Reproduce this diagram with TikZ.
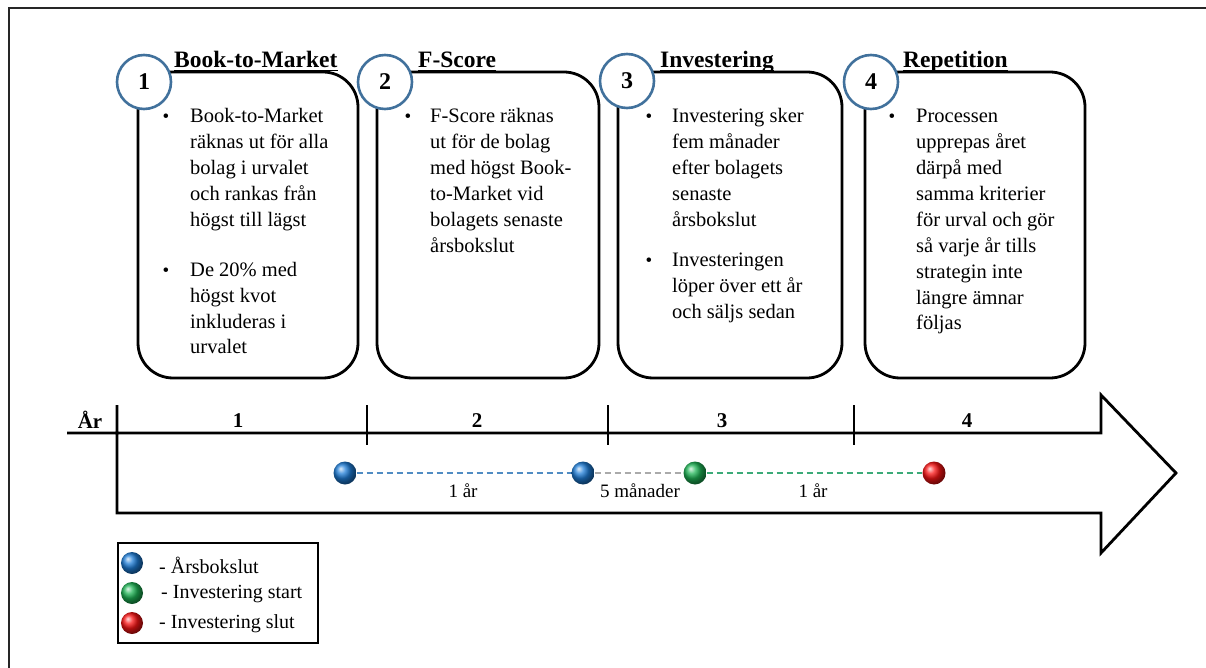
\documentclass[tikz,border=0pt]{standalone}
\usepackage{fontspec}
\setmainfont{Liberation Serif}
\usetikzlibrary{calc}
\definecolor{circblue}{RGB}{65,113,156}
\definecolor{ballblue}{RGB}{30,125,215}
\definecolor{ballgreen}{RGB}{30,180,85}
\definecolor{ballred}{RGB}{250,20,20}
\definecolor{dashblue}{RGB}{80,140,195}
\definecolor{dashgray}{RGB}{170,170,170}
\definecolor{dashgreen}{RGB}{60,170,120}
\tikzset{
  stepbox/.style={draw=black, line width=2.8pt, rounded corners=35pt, rectangle,
    minimum width=220pt, minimum height=306pt, inner sep=0pt, fill=white},
  numcirc/.style={circle, draw=circblue, line width=2.6pt, fill=white,
    minimum size=54pt, inner sep=0pt, font=\fontsize{24}{24}\selectfont\bfseries},
  titletext/.style={anchor=base west, inner sep=0pt, font=\fontsize{23.5}{26}\selectfont\bfseries},
  bodytext/.style={anchor=north west, inner sep=0pt, align=left, font=\fontsize{20.5}{25.9}\selectfont},
  bul/.style={anchor=base, inner sep=0pt, font=\fontsize{19}{19}\selectfont},
  axis/.style={line width=2.8pt, line join=miter},
  yearnum/.style={inner sep=0pt, font=\fontsize{21}{21}\selectfont\bfseries},
  balltl/.style={circle, shading=ball, minimum size=23pt, inner sep=0pt},
  ballleg/.style={circle, shading=ball, minimum size=22pt, inner sep=0pt},
  span/.style={dash pattern=on 6pt off 4pt, line width=1.5pt},
  spanlabel/.style={inner sep=0pt, font=\fontsize{19}{19}\selectfont},
  legtext/.style={anchor=west, inner sep=0pt, font=\fontsize{20}{20}\selectfont},
}
\begin{document}
\begin{tikzpicture}[x=1pt,y=-1pt]
\useasboundingbox (0,0) rectangle (1206,668);
% frame
\draw[line width=1.5pt, black!85] (1206,8) -- (9,8) -- (9,668);

% step boxes
\node[stepbox] (b1) at (248,225) {};
\node[stepbox, minimum width=222pt] (b2) at (488,225) {};
\node[stepbox, minimum width=224pt] (b3) at (730,225) {};
\node[stepbox] (b4) at (975,225) {};

% numbered circles
\node[numcirc] (c1) at (144,82) {1};
\node[numcirc] (c2) at (385,82) {2};
\node[numcirc] (c3) at (627,81) {3};
\node[numcirc] (c4) at (871,82) {4};

% titles
\node[titletext] (t1) at (174,68) {Book-to-Market};
\node[titletext] (t2) at (418,68) {F-Score};
\node[titletext] (t3) at (660,68) {Investering};
\node[titletext] (t4) at (903,68) {Repetition};
\foreach \t in {t1,t2,t3,t4}
  \draw[line width=1.3pt] ($(\t.base west)+(0,2.5)$) -- ($(\t.base east)+(0,2.5)$);

% body texts
\node[bul] (u11) at (166,122.5) {\textbullet};
\node[bodytext] (p11) at (190,104.4) {\strut Book-to-Market\\räknas ut för alla\\bolag i urvalet\\och rankas från\\högst till lägst};
\node[bul] (u12) at (166,276) {\textbullet};
\node[bodytext] (p12) at (190,257.9) {\strut De 20\% med\\högst kvot\\inkluderas i\\urvalet};

\node[bul] (u21) at (408,122.5) {\textbullet};
\node[bodytext] (p21) at (430,104.4) {\strut F-Score räknas\\ut för de bolag\\med högst Book-\\to-Market vid\\bolagets senaste\\årsbokslut};

\node[bul] (u31) at (649,122.5) {\textbullet};
\node[bodytext] (p31) at (672,104.4) {\strut Investering sker\\fem månader\\efter bolagets\\senaste\\årsbokslut};
\node[bul] (u32) at (649,266) {\textbullet};
\node[bodytext] (p32) at (672,247.9) {\strut Investeringen\\löper över ett år\\och säljs sedan};

\node[bul] (u41) at (892,122.5) {\textbullet};
\node[bodytext] (p41) at (916,104.4) {\strut Processen\\upprepas året\\därpå med\\samma kriterier\\för urval och gör\\så varje år tills\\strategin inte\\längre ämnar\\följas};

% timeline arrow
\coordinate (axL) at (67,433);
\coordinate (axHt) at (1101,433);
\coordinate (headT) at (1101,395);
\coordinate (tip) at (1176,473);
\coordinate (headB) at (1101,553);
\coordinate (axHb) at (1101,513);
\coordinate (axBL) at (117,513);
\coordinate (axTL) at (117,405);
\draw[axis] (axL) -- (axHt) -- (headT) -- (tip) -- (headB) -- (axHb) -- (axBL) -- (axTL);
\foreach \x in {367,608,854}
  \draw[axis] (\x,405) -- (\x,445);

\node[yearnum] (ar) at (90,420) {År};
\node[yearnum] (y1) at (238,421) {1};
\node[yearnum] (y2) at (477,421) {2};
\node[yearnum] (y3) at (722,421) {3};
\node[yearnum] (y4) at (967,421) {4};

% balls on timeline
\node[balltl, ball color=ballblue] (d1) at (345,473) {};
\node[balltl, ball color=ballblue] (d2) at (583,473) {};
\node[balltl, ball color=ballgreen] (d3) at (695,473) {};
\node[balltl, ball color=ballred] (d4) at (934,473) {};
\draw[span, dashblue] (d1) -- (d2);
\draw[span, dashgray] (d2) -- (d3);
\draw[span, dashgreen] (d3) -- (d4);
\node[spanlabel] (l1) at (463,491) {1 år};
\node[spanlabel] (l2) at (640,491) {5 månader};
\node[spanlabel] (l3) at (813,491) {1 år};

% legend
\node[draw=black, line width=1.2pt, rectangle, minimum width=200pt, minimum height=100pt, inner sep=0pt] (leg) at (218,593) {};
\node[ballleg, ball color=ballblue] (g1) at (132,563) {};
\node[ballleg, ball color=ballgreen] (g2) at (132,593) {};
\node[ballleg, ball color=ballred] (g3) at (132,623) {};
\node[legtext] (lt1) at (159,565) {- Årsbokslut};
\node[legtext] (lt2) at (161,594) {- Investering start};
\node[legtext] (lt3) at (159,624) {- Investering slut};
\end{tikzpicture}
\end{document}
